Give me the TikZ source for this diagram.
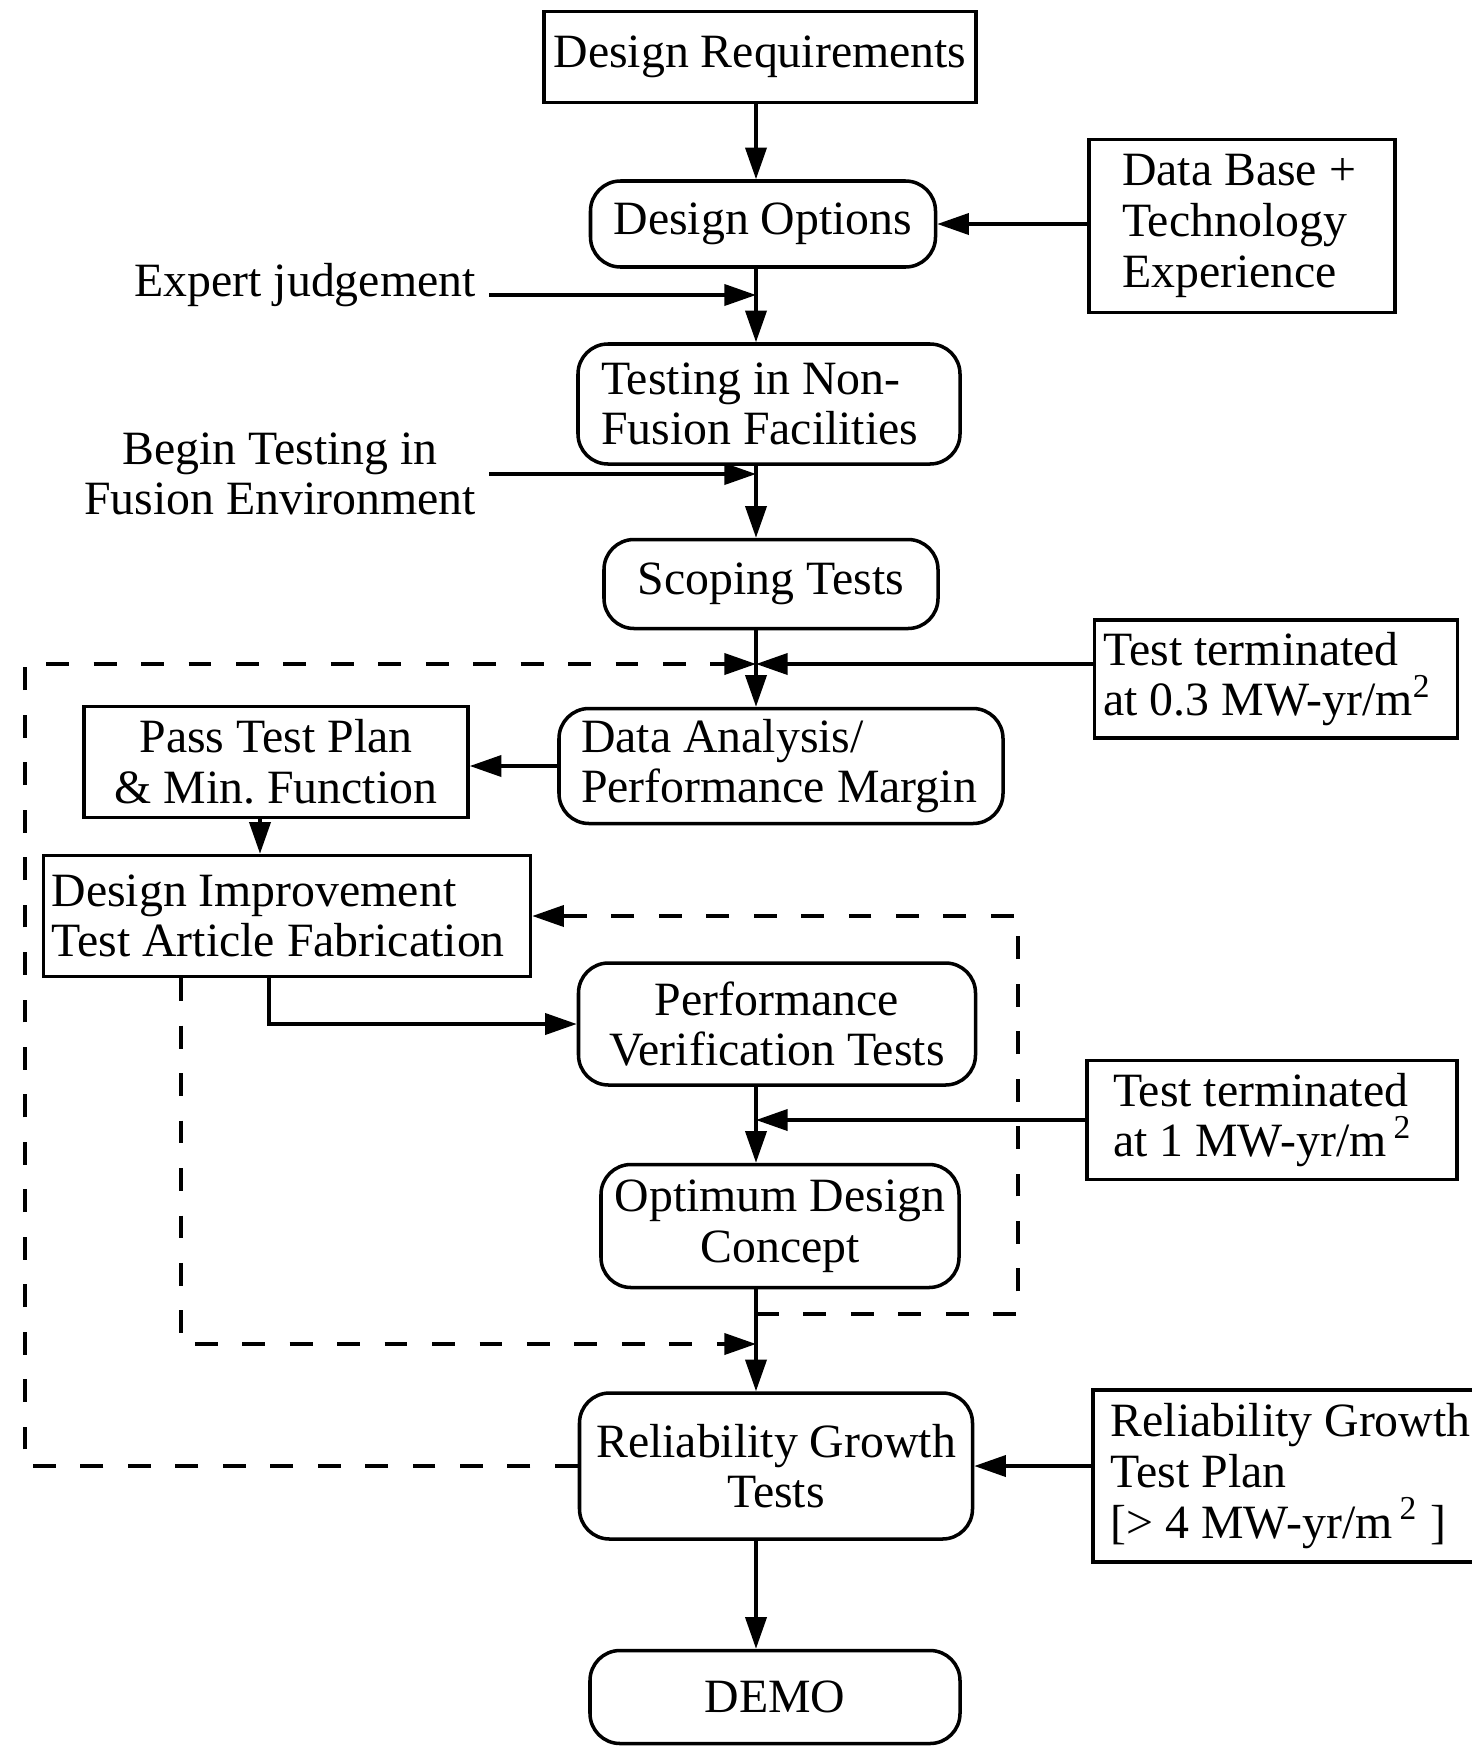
\documentclass[tikz,border=0pt]{standalone}
\usepackage{fontspec}
\setmainfont{Liberation Serif}
\usetikzlibrary{arrows.meta}
\begin{document}
\begin{tikzpicture}[
  >={Triangle[length=9pt,width=6pt]},
  line width=1pt,
  font=\fontsize{13.6}{14.4}\selectfont,
  plainbox/.style={draw, rectangle, inner sep=0pt, align=center},
  roundbox/.style={plainbox, rounded corners=0.3cm},
  leftbox/.style={draw, rectangle, align=flush left, inner ysep=0pt,
    execute at begin node={\spaceskip=0pt\xspaceskip=0pt}},
  dashline/.style={dash pattern=on 6.5pt off 7pt}
]
\useasboundingbox (0,0) rectangle (14.71,-17.46);

% Main column
\coordinate (flow) at (7.56,0);
\node[plainbox, minimum width=4.32cm, minimum height=0.91cm] (req) at (7.60,-0.57) {Design Requirements};
\node[roundbox, minimum width=3.45cm, minimum height=0.86cm] (opt) at (7.63,-2.24) {Design Options};
\node[leftbox, rounded corners=0.3cm, text width=3.36cm, inner xsep=0.23cm, minimum height=1.20cm] (test) at (7.69,-4.04) {Testing in Non-\\Fusion Facilities};
\node[roundbox, minimum width=3.34cm, minimum height=0.89cm] (scope) at (7.71,-5.84) {Scoping Tests};
\node[leftbox, rounded corners=0.3cm, text width=4.00cm, inner xsep=0.22cm, minimum height=1.15cm] (da) at (7.81,-7.66) {Data Analysis/\\Performance Margin};
\node[roundbox, minimum width=3.97cm, minimum height=1.22cm] (pv) at (7.77,-10.24) {Performance\\Verification Tests};
\node[roundbox, minimum width=3.58cm, minimum height=1.23cm] (odc) at (7.80,-12.26) {Optimum Design\\Concept};
\node[roundbox, minimum width=3.93cm, minimum height=1.46cm] (rg) at (7.76,-14.66) {Reliability Growth\\Tests};
\node[roundbox, minimum width=3.70cm, minimum height=0.93cm] (demo) at (7.75,-16.97) {DEMO};

% Inputs on the right
\node[leftbox, text width=2.40cm, inner xsep=0.33cm, minimum height=1.73cm] (dbase) at (12.42,-2.26) {Data Base +\\Technology\\Experience};
\node[leftbox, text width=3.45cm, inner xsep=0.09cm, minimum height=1.18cm] (t03) at (12.76,-6.79) {Test terminated\\at 0.3 MW-yr/m\textsuperscript{2}};
\node[leftbox, text width=3.18cm, inner xsep=0.26cm, minimum height=1.19cm] (t1) at (12.72,-11.20) {Test terminated\\at 1 MW-yr/m\kern2pt\textsuperscript{2}};
\node[leftbox, text width=3.80cm, inner xsep=0.18cm, minimum height=1.72cm, anchor=west] (rgtp) at (10.91,-14.76) {Reliability Growth\\Test Plan\\{[}> 4 MW-yr/m\kern2pt\textsuperscript{2} ]};

% Inputs on the left
\node (expert) at (3.05,-2.85) {Expert judgement};
\node[align=center] (begin) at (2.80,-4.74) {Begin Testing in\\Fusion Environment};
\node[plainbox, minimum width=3.84cm, minimum height=1.11cm] (pass) at (2.76,-7.62) {Pass Test Plan\\\& Min.\ Function};
\node[leftbox, text width=4.71cm, inner xsep=0.08cm, minimum height=1.21cm] (di) at (2.87,-9.16) {Design Improvement\\Test Article Fabrication};

% Junctions
\coordinate (j1) at (7.56,-6.64);
\coordinate (c1) at (0.25,-6.64);
\coordinate (j3) at (7.56,-13.14);
\coordinate (k3) at (10.18,-13.14);
\coordinate (j4) at (7.56,-13.44);

% Flow
\draw[->] (req.south -| flow) -- (opt.north -| flow);
\draw[->] (opt.south -| flow) -- (test.north -| flow);
\draw[->] (test.south -| flow) -- (scope.north -| flow);
\draw[->] (scope.south -| flow) -- (da.north -| flow);
\draw[->] (pv.south -| flow) -- (odc.north -| flow);
\draw[->] (odc.south -| flow) -- (rg.north -| flow);
\draw[->] (rg.south -| flow) -- (demo.north -| flow);

% Side inputs
\draw[->] (opt.east -| dbase.west) -- (opt.east);
\coordinate (ej) at ([yshift=-1mm]expert.east);
\draw[->] (ej) -- (ej -| flow);
\draw[->] (begin.east) -- (begin.east -| flow);
\draw[->] (j1 -| t03.west) -- (j1);
\draw[->] (t1.west) -- (t1.west -| flow);
\draw[->] (rg.east -| rgtp.west) -- (rg.east);

% Left branch
\draw[->] (da.west) -- (da.west -| pass.east);
\coordinate (p1) at ([xshift=-1.6mm]pass.south);
\draw[->] (p1) -- (p1 |- di.north);
\coordinate (d1) at ([xshift=-1.8mm]di.south);
\draw[->] (d1) |- (pv.west);

% Feedback loops
\draw[dashline,->] (rg.west) -- (c1 |- rg.west) -- (c1) -- (j1);
\coordinate (d2) at ([xshift=-10.6mm]di.south);
\draw[dashline,->] (d2) |- (j4);
\draw[dashline,->] (j3) -- (k3) |- (di.east);
\end{tikzpicture}
\end{document}
